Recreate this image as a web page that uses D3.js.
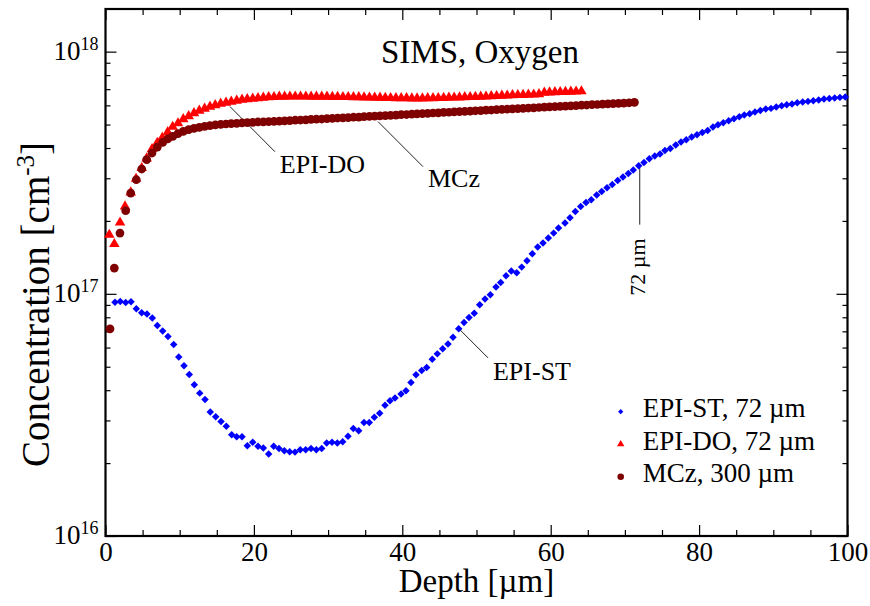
<!DOCTYPE html>
<html><head><meta charset="utf-8">
<script src="https://cdn.jsdelivr.net/npm/d3@7"></script>
<style>
body{margin:0;background:#fff;}
svg{display:block;}
text{font-family:"Liberation Serif","Times New Roman",serif;fill:#000;}
</style>
</head><body>
<svg id="chart" width="870" height="606"></svg>
<script>
// ---- DATA (depth in µm, concentration in units of 1e16 cm^-3) ----
const UNIT = 1e16;
const titleText = "SIMS, Oxygen";
const xLabel = "Depth [µm]";
const xMajorTicks = [0, 20, 40, 60, 80, 100];
const xMinorTicks = [5,10,15,25,30,35,45,50,55,65,70,75,85,90,95];
const yDecadeTicks = [1e16, 1e17, 1e18];
const yDecadeExp = ["16", "17", "18"];
const seriesNames = ["EPI-ST, 72 µm", "EPI-DO, 72 µm", "MCz, 300 µm"];
const seriesColors = ["#0000ff", "#ff0000", "#7f0000"];

const epiStPoints = [
[1.28,9.24],[1.99,9.29],[2.72,9.21],[3.44,9.27],[4.15,8.67],[4.88,8.35],[5.59,8.25],[6.31,7.94],[6.98,7.40],[7.71,7.03],
[8.42,6.66],[9.19,6.17],[9.87,5.49],[10.58,5.05],[11.29,4.64],[11.97,4.21],[12.70,3.89],[13.41,3.66],[14.12,3.25],[14.85,3.11],
[15.57,2.97],[16.28,2.84],[17.01,2.62],[17.68,2.57],[18.40,2.57],[19.11,2.36],[19.84,2.44],[20.55,2.35],[21.27,2.31],[21.99,2.18],
[22.67,2.35],[23.38,2.30],[24.10,2.25],[24.82,2.23],[25.54,2.22],[26.25,2.27],[26.98,2.27],[27.70,2.30],[28.41,2.27],[29.14,2.30],
[29.81,2.42],[30.53,2.44],[31.24,2.42],[31.97,2.45],[32.68,2.58],[33.40,2.78],[34.12,2.72],[34.84,2.94],[35.55,2.94],[36.23,3.09],
[36.95,3.21],[37.67,3.47],[38.34,3.62],[39.02,3.71],[39.83,3.86],[40.50,3.98],[41.17,4.30],[41.85,4.63],[42.61,4.82],[43.29,4.96],
[44.04,5.37],[44.72,5.65],[45.44,5.93],[46.16,6.21],[46.83,6.62],[47.60,7.17],[48.32,7.61],[48.99,7.98],[49.70,8.32],[50.43,9.01],
[51.15,9.51],[51.86,9.91],[52.63,10.66],[53.26,11.14],[53.98,11.87],[54.69,12.41],[55.42,12.21],[56.09,12.89],[56.81,13.69],[57.52,14.63],
[58.25,15.60],[58.96,16.20],[59.68,16.99],[60.40,17.81],[61.05,18.69],[61.93,19.60],[62.60,20.61],[63.32,21.88],[64.04,22.95],[64.76,23.84],
[65.47,24.46],[66.20,25.58],[66.87,26.47],[67.59,27.42],[68.30,28.29],[69.03,29.39],[69.74,30.35],[70.46,31.41],[71.13,32.45],[71.86,33.81],
[72.57,34.89],[73.29,36.14],[74.02,37.07],[74.73,37.79],[75.40,39.10],[76.12,39.85],[76.85,41.17],[77.56,42.36],[78.27,43.30],[79.00,44.43],
[79.72,45.39],[80.43,46.40],[81.16,47.29],[81.87,48.85],[82.55,49.93],[83.26,50.89],[83.99,51.87],[84.70,52.86],[85.42,53.88],[86.09,54.76],
[86.82,55.44],[87.53,56.34],[88.25,57.20],[88.98,57.98],[89.69,58.31],[90.40,59.10],[91.13,59.84],[91.81,60.39],[92.52,60.80],[93.23,61.56],
[93.96,61.96],[94.68,62.32],[95.39,62.74],[96.12,63.15],[96.83,63.75],[97.55,64.12],[98.27,64.37],[98.98,64.74],[99.70,64.98]
];

const epiDoPoints = [
[0.51,17.53],[1.19,16.05],[1.96,19.71],[2.63,22.95],[3.40,26.22],[4.12,29.87],[4.88,33.07],[5.55,36.24],[6.27,39.62],[6.98,42.07],
[7.65,44.12],[8.38,46.49],[9.05,48.98],[9.77,50.64],[10.48,52.61],[11.21,54.14],[11.93,55.71],[12.64,57.05],[13.36,58.15],[14.08,59.27],
[14.79,60.12],[15.52,60.99],[16.24,61.56],[16.95,62.15],[17.68,62.74],[18.40,63.34],[19.11,63.64],[19.84,63.94],[20.55,64.25],[21.27,64.55],
[21.99,64.86],[22.71,64.98],[23.42,65.16],[24.14,65.16],[24.85,65.29],[25.57,65.29],[26.28,65.29],[27.00,65.29],[27.71,65.16],[28.42,65.16],
[29.14,65.16],[29.85,65.16],[30.57,65.04],[31.28,65.04],[32.00,64.98],[32.71,64.98],[33.42,64.86],[34.14,64.86],[34.85,64.74],[35.57,64.67],
[36.28,64.55],[37.00,64.55],[37.71,64.43],[38.42,64.37],[39.14,64.25],[39.85,64.25],[40.57,64.25],[41.28,64.12],[41.99,64.12],[42.71,64.12],
[43.42,64.25],[44.14,64.25],[44.85,64.37],[45.57,64.43],[46.28,64.55],[46.99,64.67],[47.71,64.74],[48.42,64.86],[49.14,64.98],[49.85,65.04],
[50.57,65.16],[51.28,65.29],[51.99,65.48],[52.71,65.60],[53.42,65.79],[54.14,65.92],[54.85,66.11],[55.57,66.23],[56.28,66.29],[56.99,66.42],
[57.71,66.55],[58.42,66.74],[59.14,67.70],[59.85,67.89],[60.57,68.02],[61.28,68.15],[61.99,68.21],[62.71,68.34],[63.42,68.47],[64.14,68.60]
];

const mczPoints = [
[0.61,7.17],[1.19,12.77],[1.95,17.81],[2.72,22.03],[3.40,26.07],[4.15,29.59],[4.88,32.76],[5.55,35.79],[6.27,38.14],[6.98,40.37],
[7.71,42.19],[8.38,43.59],[9.06,44.67],[9.77,45.83],[10.49,46.85],[11.21,47.61],[11.93,48.21],[12.64,48.67],[13.37,49.12],[14.08,49.46],
[14.80,49.79],[15.53,50.07],[16.24,50.26],[16.95,50.41],[17.68,50.55],[18.40,50.75],[19.11,50.89],[19.84,51.04],[20.55,51.23],[21.27,51.23],
[21.99,51.37],[22.71,51.5],[23.42,51.6],[24.14,51.8],[24.85,51.9],[25.57,52.1],[26.28,52.2],[27.00,52.3],[27.71,52.5],[28.42,52.6],
[29.14,52.7],[29.85,52.9],[30.57,53.0],[31.28,53.2],[32.00,53.3],[32.71,53.4],[33.42,53.6],[34.14,53.7],[34.85,53.9],[35.57,54.0],
[36.28,54.2],[37.00,54.3],[37.71,54.4],[38.42,54.6],[39.14,54.7],[39.85,54.9],[40.57,55.0],[41.28,55.2],[41.99,55.3],[42.71,55.5],
[43.42,55.6],[44.14,55.8],[44.85,55.9],[45.57,56.1],[46.28,56.2],[46.99,56.4],[47.71,56.5],[48.42,56.7],[49.14,56.8],[49.85,57.0],
[50.57,57.1],[51.28,57.3],[51.99,57.4],[52.71,57.6],[53.42,57.7],[54.14,57.9],[54.85,58.0],[55.57,58.2],[56.28,58.3],[56.99,58.5],
[57.71,58.6],[58.42,58.8],[59.14,59.0],[59.85,59.1],[60.57,59.3],[61.28,59.4],[61.99,59.6],[62.71,59.7],[63.42,59.9],[64.14,60.1],
[64.85,60.2],[65.57,60.4],[66.28,60.5],[66.99,60.7],[67.71,60.9],[68.42,61.0],[69.14,61.2],[69.85,61.3],[70.57,61.5],[71.28,61.7]
];

// annotations: [label, lineStart [depth, conc], lineEnd [depth, conc], text anchor [depth, conc]]
const annotations = [
  {label:"EPI-DO", from:[16.78,59.3], to:[22.84,38.6], at:[23.5,31.6]},
  {label:"MCz",    from:[36.73,51.4], to:[42.79,33.5], at:[43.46,27.7]},
  {label:"EPI-ST", from:[47.78,7.10], to:[51.55,5.44], at:[52.22,4.41]}
];
const thicknessMark = {label:"72 µm", depth:72, from:33.2, to:19.3, textDepth:72.75, textConc:12.9};

// ---- LAYOUT ----
const svg = d3.select("#chart");
const L = 105.5, R = 847.5, T = 9, B = 536;
const x = d3.scaleLinear().domain([0, 100]).range([L, R]);
const y = d3.scaleLog().domain([1e16, 1.5e18]).range([B, T]);

const yMinor = [];
[1e16, 1e17].forEach(d => { for (let k = 2; k <= 9; k++) yMinor.push(d * k); });
const yMinorOnly = yMinor.filter(v => v < 1.5e18 && !yDecadeTicks.includes(v));

function styleAxis(g){
  g.select(".domain").remove();
  g.selectAll(".tick line").attr("stroke","#000").attr("stroke-width",1.2);
}

// bottom
svg.append("g").attr("transform",`translate(0,${B})`)
  .call(d3.axisBottom(x).tickValues(xMinorTicks).tickSize(-6).tickFormat(""))
  .call(styleAxis);
svg.append("g").attr("transform",`translate(0,${B})`)
  .call(d3.axisBottom(x).tickValues(xMajorTicks).tickSize(-11).tickPadding(6).tickFormat(d3.format("d")))
  .call(styleAxis)
  .call(g => g.selectAll("text").attr("font-size",27).attr("font-family","Liberation Serif").attr("fill","#000"));
// top
svg.append("g").attr("transform",`translate(0,${T})`)
  .call(d3.axisTop(x).tickValues(xMinorTicks).tickSize(-6).tickFormat(""))
  .call(styleAxis);
svg.append("g").attr("transform",`translate(0,${T})`)
  .call(d3.axisTop(x).tickValues(xMajorTicks).tickSize(-11).tickFormat(""))
  .call(styleAxis);
// left
svg.append("g").attr("transform",`translate(${L},0)`)
  .call(d3.axisLeft(y).tickValues(yMinorOnly).tickSize(-5).tickFormat(""))
  .call(styleAxis);
svg.append("g").attr("transform",`translate(${L},0)`)
  .call(d3.axisLeft(y).tickValues(yDecadeTicks).tickSize(-11).tickFormat(""))
  .call(styleAxis);
// right
svg.append("g").attr("transform",`translate(${R},0)`)
  .call(d3.axisRight(y).tickValues(yMinorOnly).tickSize(-5).tickFormat(""))
  .call(styleAxis);
svg.append("g").attr("transform",`translate(${R},0)`)
  .call(d3.axisRight(y).tickValues(yDecadeTicks).tickSize(-11).tickFormat(""))
  .call(styleAxis);

// y decade labels
yDecadeTicks.forEach((v, i) => {
  const t = svg.append("text").attr("x", L - 7).attr("y", y(v) + 8)
    .attr("text-anchor","end").attr("font-size",27);
  t.append("tspan").text("10");
  t.append("tspan").attr("font-size",18).attr("dy",-10).text(yDecadeExp[i]);
});

// frame
svg.append("rect").attr("x",L).attr("y",T).attr("width",R-L).attr("height",B-T)
  .attr("fill","none").attr("stroke","#000").attr("stroke-width",2.2);

// axis labels
svg.append("text").attr("x",(L+R)/2).attr("y",592).attr("text-anchor","middle")
  .attr("font-size",33).text(xLabel);
const yl = svg.append("text").attr("transform",`translate(49,${(T+B)/2 + 32}) rotate(-90)`)
  .attr("text-anchor","middle").attr("font-size",39);
yl.append("tspan").text("Concentration [cm");
yl.append("tspan").attr("font-size",25).attr("dy",-15).text("-3");
yl.append("tspan").attr("dy",15).text("]");

// title
svg.append("text").attr("x",480).attr("y",63).attr("text-anchor","middle")
  .attr("font-size",33).text(titleText);

// annotation lines & labels
annotations.forEach(a => {
  svg.append("line").attr("x1",x(a.from[0])).attr("y1",y(a.from[1]*UNIT))
    .attr("x2",x(a.to[0])).attr("y2",y(a.to[1]*UNIT)).attr("stroke","#222").attr("stroke-width",1);
  svg.append("text").attr("x",x(a.at[0])).attr("y",y(a.at[1]*UNIT)).attr("font-size",26).text(a.label);
});
svg.append("line").attr("x1",x(thicknessMark.depth)).attr("x2",x(thicknessMark.depth))
  .attr("y1",y(thicknessMark.from*UNIT)).attr("y2",y(thicknessMark.to*UNIT))
  .attr("stroke","#222").attr("stroke-width",1);
svg.append("text")
  .attr("transform",`translate(${x(thicknessMark.textDepth)},${y(thicknessMark.textConc*UNIT)}) rotate(-90)`)
  .attr("text-anchor","middle").attr("font-size",22).text(thicknessMark.label);

// markers
const diamond = d3.symbol().type(d3.symbolSquare).size(28)();
const triangle = d3.symbol().type(d3.symbolTriangle).size(48)();
const circle = d3.symbol().type(d3.symbolCircle).size(60)();

const plot = svg.append("g");
plot.selectAll("path.st").data(epiStPoints).join("path").attr("class","st")
  .attr("d", diamond).attr("fill", seriesColors[0])
  .attr("transform", d => `translate(${x(d[0])},${y(d[1]*UNIT)}) rotate(45)`);
plot.selectAll("path.do").data(epiDoPoints).join("path").attr("class","do")
  .attr("d", triangle).attr("fill", seriesColors[1])
  .attr("transform", d => `translate(${x(d[0])},${y(d[1]*UNIT)})`);
plot.selectAll("path.mcz").data(mczPoints).join("path").attr("class","mcz")
  .attr("d", circle).attr("fill", seriesColors[2])
  .attr("transform", d => `translate(${x(d[0])},${y(d[1]*UNIT)})`);

// legend
const legendSymbols = [
  d3.symbol().type(d3.symbolSquare).size(14)(),
  d3.symbol().type(d3.symbolTriangle).size(24)(),
  d3.symbol().type(d3.symbolCircle).size(34)()
];
const lg = svg.append("g").attr("transform","translate(620.7,411.7)");
seriesNames.forEach((n, i) => {
  lg.append("path").attr("d", legendSymbols[i]).attr("fill", seriesColors[i])
    .attr("transform", `translate(0,${i*32.5})` + (i===0 ? " rotate(45)" : ""));
  lg.append("text").attr("x", 22).attr("y", i*32.5 + 5.6).attr("font-size",27).text(n);
});
</script>
</body></html>
